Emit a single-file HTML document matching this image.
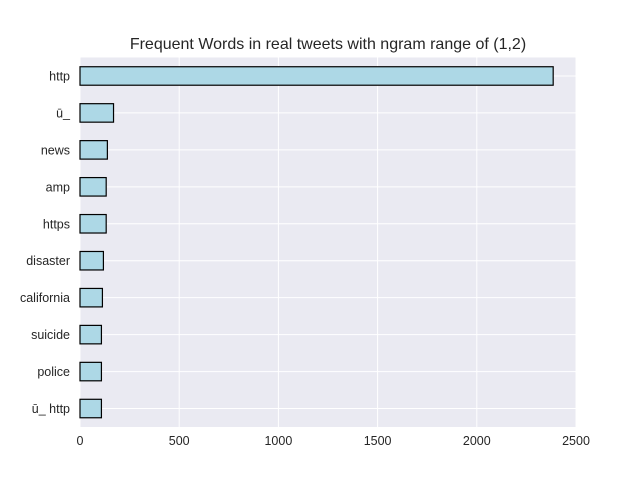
<!DOCTYPE html>
<html><head><meta charset="utf-8"><style>
body{margin:0;background:#fff;font-family:"Liberation Sans","DejaVu Sans",sans-serif}
</style></head><body>
<svg id="chart" width="640" height="480" style="display:block"></svg>
<script>
const categories=["http","ū_","news","amp","https","disaster","california","suicide","police","ū_ http"];
const counts=[2385,169,138,132,132,118,113,108,108,108];
const xTicks=[0,500,1000,1500,2000,2500];
const L=80,R=576,T=57.5,B=427,xMax=2500;
const NS="http://www.w3.org/2000/svg";
const svg=document.getElementById('chart');
function x(v){return L+(v/xMax)*(R-L);}
const step=(B-T)/categories.length;
function yc(i){return T+step*(i+0.5);}
function mk(t,a,p){const e=document.createElementNS(NS,t);for(const k in a)e.setAttribute(k,a[k]);(p||svg).appendChild(e);return e;}
const bg=mk('rect',{x:L,y:T,width:R-L,height:B-T,fill:'#eaeaf2'});


xTicks.forEach(v=>{
  const g=mk('line',{x1:x(v),x2:x(v),y1:T,y2:B,stroke:'#fff','stroke-width':1});
  
  
  const t=mk('text',{x:x(v),y:B+18,'text-anchor':'middle','font-size':12.5,fill:'#262626'});
  t.textContent=v;
  
  
});
categories.forEach((c,i)=>{
  const g=mk('line',{x1:L,x2:R,y1:yc(i),y2:yc(i),stroke:'#fff','stroke-width':1});
  
  
});
categories.forEach((c,i)=>{
  const h=step*0.5;
  const r=mk('rect',{x:x(0),y:yc(i)-h/2,width:x(counts[i])-x(0),height:h,fill:'#add8e6',stroke:'#000','stroke-width':1.2});
  
  
  const t=mk('text',{x:L-10,y:yc(i)+4.5,'text-anchor':'end','font-size':12.5,fill:'#262626'});
  t.textContent=c;
  
  
});
const title=mk('text',{x:(L+R)/2,y:49,'text-anchor':'middle','font-size':16,fill:'#262626'});
title.textContent='Frequent Words in real tweets with ngram range of (1,2)';


</script>
</body></html>
